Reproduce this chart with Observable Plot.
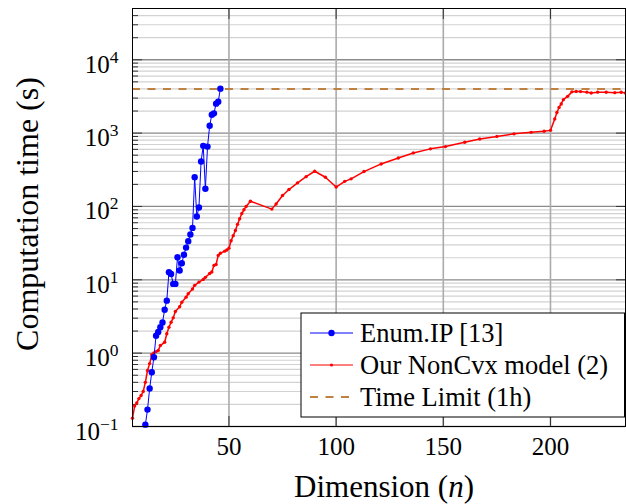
<!DOCTYPE html>
<html><head><meta charset="utf-8">
<script src="https://cdn.jsdelivr.net/npm/d3@7"></script>
<script src="https://cdn.jsdelivr.net/npm/@observablehq/plot@0.6"></script>
<style>body{margin:0;background:#fff} svg{display:block}</style>
</head><body><div id="chart"></div>
<script>
// Enum.IP [13]
const enumN = [11,12,13,14,15,16,17,18,19,20,21,22,23,24,25,26,27,28,29,30,31,32,33,34,35,36,37,38,39,40,41,42,43,44,45,46];
const enumT = [0.106,0.17,0.33,0.55,0.88,1.73,1.95,2.26,2.62,3.9,5.2,12.7,12.0,8.8,8.8,20.3,13.4,16.8,22,27.5,33.5,41.5,51,250,73,97,410,670,174,655,1260,1780,1860,2520,2680,4040];
// Our NonCvx model (2)
const ncN = [5,6,7,8,9,10,11,12,13,14,15,16,17,18,20,21,22,23,24,25,27,28,30,31,33,34,36,38,39,41,42,43,44,45,46,48,49,50,51,52,53,54,55,56,57,58,60,70,72,75,78,82,86,90,95,100,104,107,113,121,129,136,144,151,160,167,175,183,191,197,200,202,203,204,205,206,208,210,212,214,217,219,222,226,230,233,235];
const ncT = [0.13,0.19,0.21,0.24,0.265,0.30,0.40,0.58,0.72,0.95,1.01,1.05,1.09,1.27,1.41,1.84,2.26,2.64,3.03,3.7,4.3,4.95,5.8,6.45,7.5,8.4,9.3,10.1,10.8,12.2,12.8,15.7,16.2,21.5,23,24.6,25.5,27,34,40,47,57,68,80,90,100,118,92,108,141,170,210,255,302,250,184,220,238,299,380,458,537,610,655,750,833,902,977,1024,1060,1090,1560,1910,2240,2500,2860,3170,3650,3700,3680,3620,3530,3620,3600,3560,3600,3530];
const timeLimit = 4000;
const seriesNames = ["Enum.IP [13]", "Our NonCvx model (2)", "Time Limit (1h)"];
const seriesColors = ["#0000ff", "#ff0000", "#bf8040"];
const xTicks = [50, 100, 150, 200];
const yTicks = [0.1, 1, 10, 100, 1000, 10000];
const xDomain = [5, 235];
const yDomain = [0.1, 50000];
const xLabel = "Dimension";
const yLabel = "Computation time (s)";

const enumData = enumN.map((n, i) => ({n, t: enumT[i]}));
const ncData = ncN.map((n, i) => ({n, t: ncT[i]}));
const minorTicks = [];
for (const d of yTicks) for (let k = 2; k <= 9; k++) { const v = d * k; if (v <= yDomain[1]) minorTicks.push(v); }

const font = "Liberation Serif";
const blank = () => "";

const svg = Plot.plot({
  width: 626, height: 504,
  marginLeft: 132, marginRight: 1, marginTop: 8, marginBottom: 78,
  x: {domain: xDomain},
  y: {type: "log", domain: yDomain},
  style: {fontFamily: font, fontSize: "25px", color: "black", background: "white"},
  marks: [
    Plot.gridY({ticks: minorTicks, stroke: "#d2d2d2", strokeOpacity: 1, strokeWidth: 1.2}),
    Plot.gridY({ticks: yTicks, stroke: "#8a8a8a", strokeOpacity: 1, strokeWidth: 1.3}),
    Plot.gridX({ticks: xTicks, stroke: "#ababab", strokeOpacity: 1, strokeWidth: 1.6}),
    // inner tick marks
    Plot.axisY({ticks: minorTicks, tickSize: 6, dx: 6, tickFormat: blank, label: null, stroke: "#333"}),
    Plot.axisY({ticks: yTicks, tickSize: 10, dx: 10, tickFormat: blank, label: null, stroke: "#333"}),
    Plot.axisY({anchor: "right", ticks: yTicks, tickSize: 10, dx: -10, tickFormat: blank, label: null, stroke: "#333"}),
    Plot.axisX({ticks: xTicks, tickSize: 10, dy: -10, tickFormat: blank, label: null, stroke: "#333"}),
    Plot.axisX({anchor: "top", ticks: xTicks, tickSize: 10, dy: 10, tickFormat: blank, label: null, stroke: "#333"}),
    // tick labels
    Plot.axisX({ticks: xTicks, tickSize: 0, tickPadding: 11, label: null, fontSize: 25}),
    Plot.axisY({ticks: yTicks, tickSize: 0, tickPadding: 14, dy: 5, label: null, fontSize: 25,
      tickFormat: d => "10^" + Math.round(Math.log10(d))}),
    // series
    Plot.ruleY([timeLimit], {stroke: seriesColors[2], strokeWidth: 2, strokeDasharray: "8,7.5"}),
    Plot.line(ncData, {x: "n", y: "t", stroke: seriesColors[1], strokeWidth: 1.5}),
    Plot.dot(ncData, {x: "n", y: "t", r: 1.7, fill: seriesColors[1], stroke: "none"}),
    Plot.line(enumData, {x: "n", y: "t", stroke: seriesColors[0], strokeWidth: 1}),
    Plot.dot(enumData, {x: "n", y: "t", r: 3.2, fill: seriesColors[0], stroke: "none"}),
    Plot.frame({stroke: "black", strokeWidth: 1})
  ]
});

// superscript exponents on y tick labels
d3.select(svg).selectAll('g[aria-label="y-axis tick label"] text').each(function() {
  const s = this.textContent;
  const m = s.match(/^10\^(-?\d+)$/);
  if (!m) return;
  const el = d3.select(this).style("font-family", font);
  el.text("");
  el.append("tspan").text("10");
  el.append("tspan").attr("dy", "-10").attr("font-size", "17.5px").text(m[1].replace("-", "\u2212"));
});
d3.select(svg).selectAll('g[aria-label="x-axis tick label"] text').style("font-family", font);

const g = d3.select(svg).append("g").attr("fill", "black");
const txt = (sel) => sel.style("font-family", font).attr("fill", "black");
// axis labels
const xt = txt(g.append("text")).attr("x", 384).attr("y", 497).attr("text-anchor", "middle").style("font-size", "31px");
xt.append("tspan").text(xLabel + " (");
xt.append("tspan").attr("font-style", "italic").text("n");
xt.append("tspan").text(")");
txt(g.append("text")).attr("transform", "translate(38,214) rotate(-90)").attr("text-anchor", "middle")
  .style("font-size", "32px").text(yLabel);

// legend
const lg = g.append("g");
lg.append("rect").attr("x", 301).attr("y", 313).attr("width", 323.5).attr("height", 104)
  .attr("fill", "white").attr("stroke", "black").attr("stroke-width", 1);
const rowY = [333, 365, 397];
seriesNames.forEach((name, i) => {
  const y = rowY[i];
  const line = lg.append("line").attr("x1", 310).attr("x2", 353).attr("y1", y).attr("y2", y)
    .attr("stroke", seriesColors[i]).attr("stroke-width", i === 2 ? 2 : 1);
  if (i === 2) line.attr("stroke-dasharray", "8,7.5");
  if (i < 2) lg.append("circle").attr("cx", 331.5).attr("cy", y).attr("r", i === 0 ? 3.2 : 1.6).attr("fill", seriesColors[i]);
  txt(lg.append("text")).attr("x", 360).attr("y", y + 9).attr("text-anchor", "start")
    .style("font-size", "26.5px").text(name);
});

document.getElementById("chart").appendChild(svg);
</script>
</body></html>
